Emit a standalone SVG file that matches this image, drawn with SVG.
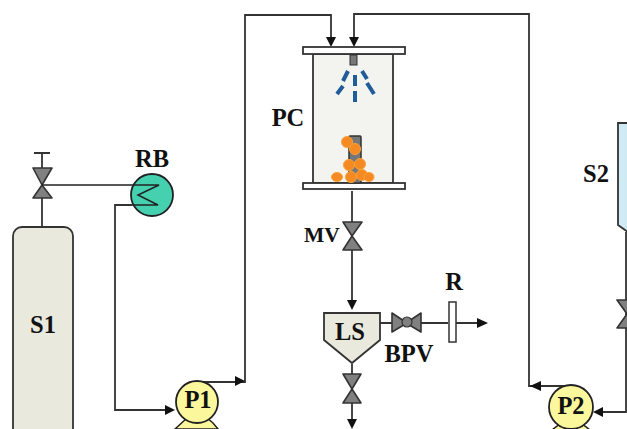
<svg xmlns="http://www.w3.org/2000/svg" width="627" height="429" viewBox="0 0 627 429">
<style>
.l{fill:none;stroke:#333;stroke-width:1.8}
.v{fill:#808080;stroke:#333;stroke-width:1.6;stroke-linejoin:round}
.a{fill:#111}
.s{fill:none;stroke:#1f5c99;stroke-width:4}
.o{fill:#f58a23;stroke:#f9a23a;stroke-width:1}
.p{fill:#fbf79c;stroke:#222;stroke-width:1.8}
text{font-family:"Liberation Serif",serif;font-weight:bold;fill:#111;text-anchor:middle;font-size:24.500px}
</style>
<rect width="627" height="429" fill="#fff"/>
<g id="connectors">
<path class="l" d="M42 226V153M34 153H50"/>
<path class="l" d="M132 205H115V410H168"/>
<path class="a" d="M175 410L165 405V415Z"/>
<path class="l" d="M197 382H245V15H331V38"/>
<path class="a" d="M245 381L235 376V386Z"/>
<path class="a" d="M331 47L326 37H336Z"/>
<path class="l" d="M354 38V14H529V386H570"/>
<path class="a" d="M354 47L349 37H359Z"/>
<path class="a" d="M530 386L541 381V391Z"/>
<path class="l" d="M626 232V412H600"/>
<path class="a" d="M593 412L603 407V417Z"/>
<path class="l" d="M352 191V300"/>
<path class="a" d="M352 310L347 300H357Z"/>
<path class="l" d="M380 323H448M456 323H478"/>
<path class="a" d="M488 323L477 318V328Z"/>
<path class="l" d="M352 364V420"/>
<path class="a" d="M352 429L347 419H357Z"/>
</g>
<g id="S1"><rect x="13" y="227" width="60" height="215" rx="9" fill="#e9e9dd" stroke="#333" stroke-width="1.800"/><text x="43" y="333">S1</text></g>
<g id="V1"><path class="v" d="M33 168H52L42 185ZM33 198H52L42 185Z"/></g>
<g id="RB"><circle cx="152" cy="195" r="21" fill="#45d0b0" stroke="#222" stroke-width="1.800"/><path d="M42 185H159L138 195L158 205H132" fill="none" stroke="#222" stroke-width="1.500"/><text x="152" y="167">RB</text></g>
<g id="P1"><path d="M175 429L187 418H207L213 423L218 429Z" fill="#fbf79c" stroke="#222" stroke-width="1.500"/><circle class="p" cx="197" cy="402" r="21"/><text x="198" y="408">P1</text></g>
<g id="PC">
<rect x="313" y="54" width="80" height="129" fill="#f3f3ef" stroke="#333" stroke-width="1.800"/>
<rect x="303" y="47" width="102" height="7" fill="#fff" stroke="#333" stroke-width="1.800"/>
<rect x="303" y="183" width="102" height="6" fill="#fff" stroke="#333" stroke-width="1.800"/>
<rect x="350" y="55" width="7" height="10" fill="#777" stroke="#333"/>
<path class="s" d="M348 71L343 81M343 86L337 94M355 75V86M355 91V102M362 71L367 79M367 83L374 94"/>
<rect x="349" y="136" width="12" height="47" rx="1" fill="#777" stroke="#333" stroke-width="1.500"/>
<g class="o"><circle cx="347" cy="142" r="5.500"/><circle cx="355" cy="149" r="5.500"/><circle cx="349" cy="165" r="5.500"/><circle cx="360" cy="164" r="5.500"/><ellipse cx="337" cy="177" rx="5.500" ry="4.500"/><circle cx="351" cy="177" r="5.500"/><circle cx="362" cy="175" r="5.500"/><ellipse cx="369" cy="177" rx="5" ry="4.500"/></g>
<text x="288" y="126">PC</text>
</g>
<g id="MV"><path class="v" d="M343 222H362L352 236ZM343 250H362L352 236Z"/><text x="322" y="242" style="font-size:21.500px">MV</text></g>
<g id="LS"><path d="M324 313H380V340L352 363L324 340Z" fill="#e9e9dd" stroke="#333" stroke-width="1.800"/><text x="350" y="340">LS</text></g>
<g id="BPV"><path class="v" d="M392 313L407 323L392 332ZM421 313L406 323L421 332Z"/><circle cx="407" cy="322" r="5" fill="#808080" stroke="#333" stroke-width="1.200"/><text x="409" y="362">BPV</text></g>
<g id="R"><rect x="449" y="302" width="7" height="40" fill="#fff" stroke="#333" stroke-width="1.500"/><text x="454" y="290">R</text></g>
<g id="V3"><path class="v" d="M343 374H361L352 389ZM343 403H361L352 389Z"/></g>
<g id="S2"><path d="M628 123H618V225L628 232Z" fill="#cfeaf2" stroke="#333" stroke-width="1.800"/><text x="596" y="182">S2</text></g>
<g id="V2"><path class="v" d="M617 300H628V328H617L627 314Z"/></g>
<g id="P2"><path d="M552 430L561 423H581L590 430Z" fill="#fbf79c" stroke="#222" stroke-width="1.500"/><circle class="p" cx="571" cy="407" r="22"/><text x="571" y="414">P2</text></g>
</svg>
